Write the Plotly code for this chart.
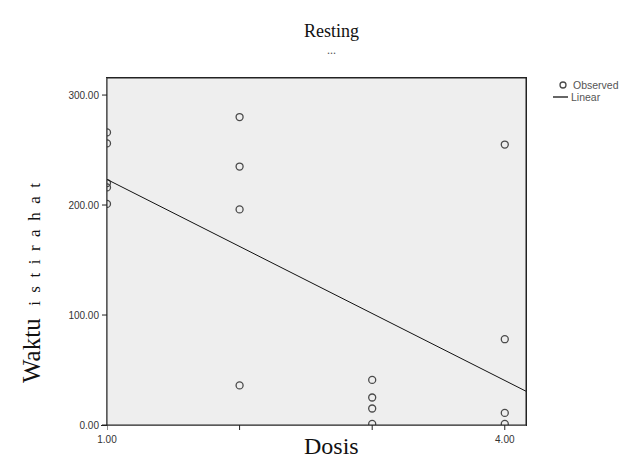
import numpy as np
import plotly.graph_objects as go

# ---- data ----
dosis = [1, 1, 1, 1, 1,
         2, 2, 2, 2,
         3, 3, 3, 3,
         4, 4, 4, 4]
waktu = [266, 256, 220, 216, 201,
         280, 235, 196, 36,
         41, 25, 15, 1,
         255, 78, 11, 1]

x_tickvals = [1, 2, 3, 4]
x_ticktext = ["1.00", "", "", "4.00"]
y_tickvals = [0, 100, 200, 300]
y_ticktext = ["0.00", "100.00", "200.00", "300.00"]

X_RANGE = [1.0, 4.16]
Y_RANGE = [0, 315.5]

# linear fit computed from the observations
slope, intercept = np.polyfit(dosis, waktu, 1)
fit_x = np.array(X_RANGE)
fit_y = intercept + slope * fit_x

MARK_COL = "#4a4a4a"
fig = go.Figure()
fig.add_trace(go.Scatter(
    x=dosis, y=waktu, mode="markers", name="Observed",
    marker=dict(symbol="circle-open", size=7, color=MARK_COL,
                line=dict(width=1.3, color=MARK_COL)),
))
fig.add_trace(go.Scatter(
    x=fit_x, y=fit_y, mode="lines", name="Linear",
    line=dict(color="#111111", width=1),
))

tickfont = dict(family="Liberation Sans, Arial, sans-serif", size=10, color="#333333")
axis_common = dict(
    showline=True, linecolor="#222222", linewidth=1, mirror=True,
    ticks="outside", ticklen=5, tickcolor="#222222", tickwidth=1,
    showgrid=False, zeroline=False, tickfont=tickfont,
)

fig.update_layout(
    width=634, height=460,
    margin=dict(l=107, r=108, t=78, b=35),
    paper_bgcolor="white", plot_bgcolor="#eeeeee",
    showlegend=False,
    xaxis=dict(range=X_RANGE, tickvals=x_tickvals, ticktext=x_ticktext, **axis_common),
    yaxis=dict(range=Y_RANGE, tickvals=y_tickvals, ticktext=y_ticktext, **axis_common),
)

# --- mask marker halves that spill outside the plot frame (as in the original) ---
fig.add_shape(type="rect", layer="above", xref="paper", yref="paper",
              xsizemode="pixel", xanchor=0, x0=-6, x1=-0.5, y0=0, y1=1,
              fillcolor="white", line=dict(width=0))
fig.add_shape(type="rect", layer="above", xref="paper", yref="paper",
              ysizemode="pixel", yanchor=0, y0=-6, y1=-0.5, x0=0, x1=1,
              fillcolor="white", line=dict(width=0))
# redraw frame and tick marks on top
fig.add_shape(type="rect", layer="above", xref="paper", yref="paper",
              x0=0, x1=1, y0=0, y1=1, line=dict(color="#222222", width=1))
for v in y_tickvals:
    fig.add_shape(type="line", layer="above", xref="paper", yref="y",
                  xsizemode="pixel", xanchor=0, x0=-5, x1=0, y0=v, y1=v,
                  line=dict(color="#222222", width=1))
for v in x_tickvals:
    fig.add_shape(type="line", layer="above", xref="x", yref="paper",
                  ysizemode="pixel", yanchor=0, y0=-5, y1=0, x0=v, x1=v,
                  line=dict(color="#222222", width=1))

serif = "Liberation Serif, Times New Roman, serif"
H = 347.0  # plot height in px
W = 419.0  # plot width in px


def px(xp):
    return (xp - 107) / W


def py(yp):
    return (425 - yp) / H


fig.add_annotation(text="Resting", xref="paper", yref="paper",
                   x=px(331), y=py(31), xanchor="center", yanchor="middle",
                   showarrow=False, font=dict(family=serif, size=18, color="#111111"))
fig.add_annotation(text="...", xref="paper", yref="paper",
                   x=px(331), y=py(50), xanchor="center", yanchor="middle",
                   showarrow=False, font=dict(family=serif, size=12, color="#555555"))
fig.add_annotation(text="Dosis", xref="paper", yref="paper",
                   x=px(331), y=py(446), xanchor="center", yanchor="middle",
                   showarrow=False, font=dict(family=serif, size=24, color="#111111"))
spaced = "&nbsp;&nbsp;".join(list("istirahat"))
fig.add_annotation(text="Waktu&nbsp;&nbsp;<span style='font-size:17px'>" + spaced + "</span>",
                   xref="paper", yref="paper", textangle=-90,
                   x=px(31), y=py(283), xanchor="center", yanchor="middle",
                   showarrow=False, font=dict(family=serif, size=25, color="#111111"))

# --- legend drawn by hand, placed like the original ---
legfont = dict(family="Liberation Sans, Arial, sans-serif", size=10.5, color="#555555")
fig.add_shape(type="circle", xref="paper", yref="paper",
              xsizemode="pixel", ysizemode="pixel", xanchor=px(563), yanchor=py(85),
              x0=-3, x1=3, y0=-3, y1=3, line=dict(color=MARK_COL, width=1.3))
fig.add_annotation(text="Observed", xref="paper", yref="paper", x=px(571), y=py(85),
                   xanchor="left", yanchor="middle", showarrow=False, font=legfont)
fig.add_shape(type="line", xref="paper", yref="paper",
              x0=px(553), x1=px(568), y0=py(97), y1=py(97),
              line=dict(color="#333333", width=1.5))
fig.add_annotation(text="Linear", xref="paper", yref="paper", x=px(569), y=py(97),
                   xanchor="left", yanchor="middle", showarrow=False, font=legfont)

fig.write_html("out.html")
